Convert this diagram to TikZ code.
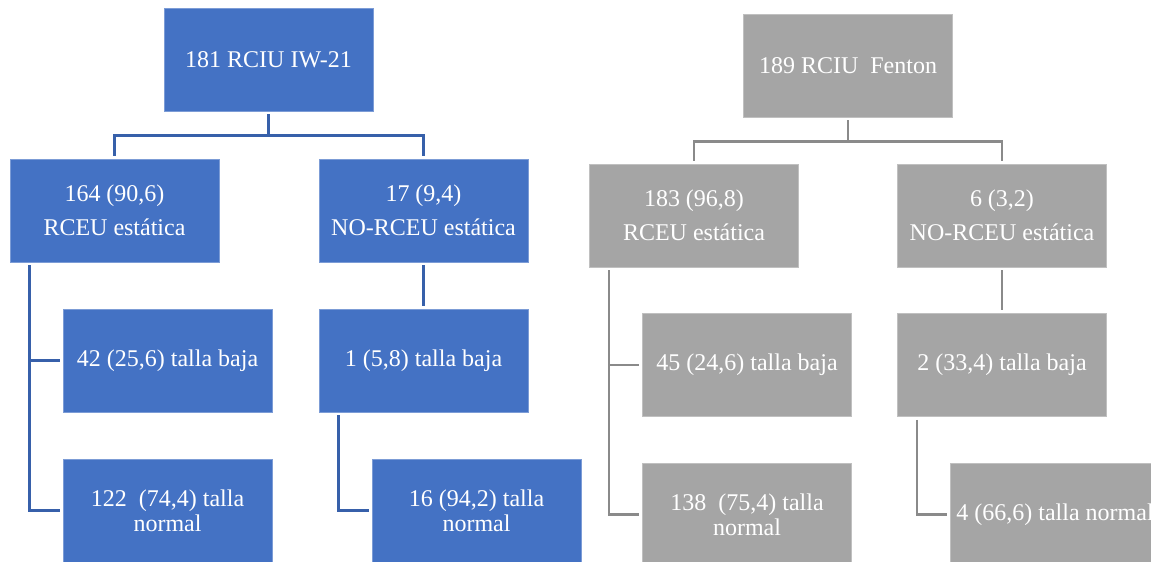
\documentclass[tikz,border=0pt]{standalone}
\usepackage{fontspec}
\setmainfont{Liberation Serif}
\definecolor{iwbox}{HTML}{4472C4}
\definecolor{iwline}{HTML}{3760AA}
\definecolor{febox}{HTML}{A5A5A5}
\definecolor{feline}{HTML}{8A8A8A}

\begin{document}
\begin{tikzpicture}[x=0.5pt, y=-0.5pt,
  box/.style={rectangle, inner sep=0pt, minimum width=104.5pt, minimum height=51.5pt,
    align=center, text=white, font=\fontsize{12}{12.5}\selectfont},
  bbox/.style={box, fill=iwbox, draw=iwbox!70!white, line width=0.4pt},
  gbox/.style={box, fill=febox, draw=febox!70!white, line width=0.4pt},
  bline/.style={draw=iwline, line width=1.3pt, shorten <=1.5pt, shorten >=1.5pt},
  gline/.style={draw=feline, line width=1.3pt, shorten <=1.5pt, shorten >=1.5pt}]
\useasboundingbox (0,0) rectangle (1151,562);

% IW-21 tree
\node[bbox] (iw) at (268.5,59.5) {181 RCIU IW-21};
\node[bbox] (iwr) at (114.5,210.5) {164 (90,6)\\[4.5pt]RCEU estática};
\node[bbox] (iwn) at (423.5,210.5) {17 (9,4)\\[4.5pt]NO-RCEU estática};
\node[bbox] (iwrb) at (167.5,360.5) {42 (25,6) talla baja};
\node[bbox] (iwrn) at (167.5,510.5) {122\ \ (74,4) talla\\normal};
\node[bbox] (iwnb) at (423.5,360.5) {1 (5,8) talla baja};
\node[bbox] (iwnn) at (476.5,510.5) {16 (94,2) talla\\normal};

\draw[bline] (iw.south) -- ++(0,24) -| (iwr.north);
\draw[bline] (iw.south) -- ++(0,24) -| (iwn.north);
\draw[bline] ([xshift=10pt]iwr.south west) |- (iwrb.west);
\draw[bline] ([xshift=10pt]iwr.south west) |- (iwrn.west);
\draw[bline] (iwn.south) -- (iwnb.north);
\draw[bline] ([xshift=10pt]iwnb.south west) |- (iwnn.west);

% Fenton tree
\node[gbox] (fe) at (848,65.5) {189 RCIU\ \ Fenton};
\node[gbox] (fer) at (694,215.5) {183 (96,8)\\[4.5pt]RCEU estática};
\node[gbox] (fen) at (1002,215.5) {6 (3,2)\\[4.5pt]NO-RCEU estática};
\node[gbox] (ferb) at (747,365) {45 (24,6) talla baja};
\node[gbox] (fern) at (747,514.5) {138\ \ (75,4) talla\\normal};
\node[gbox] (fenb) at (1002,365) {2 (33,4) talla baja};
\node[gbox] (fenn) at (1055,514.5) {4 (66,6) talla normal};

\draw[gline] (fe.south) -- ++(0,24) -| (fer.north);
\draw[gline] (fe.south) -- ++(0,24) -| (fen.north);
\draw[gline] ([xshift=10pt]fer.south west) |- (ferb.west);
\draw[gline] ([xshift=10pt]fer.south west) |- (fern.west);
\draw[gline] (fen.south) -- (fenb.north);
\draw[gline] ([xshift=10pt]fenb.south west) |- (fenn.west);
\end{tikzpicture}
\end{document}
